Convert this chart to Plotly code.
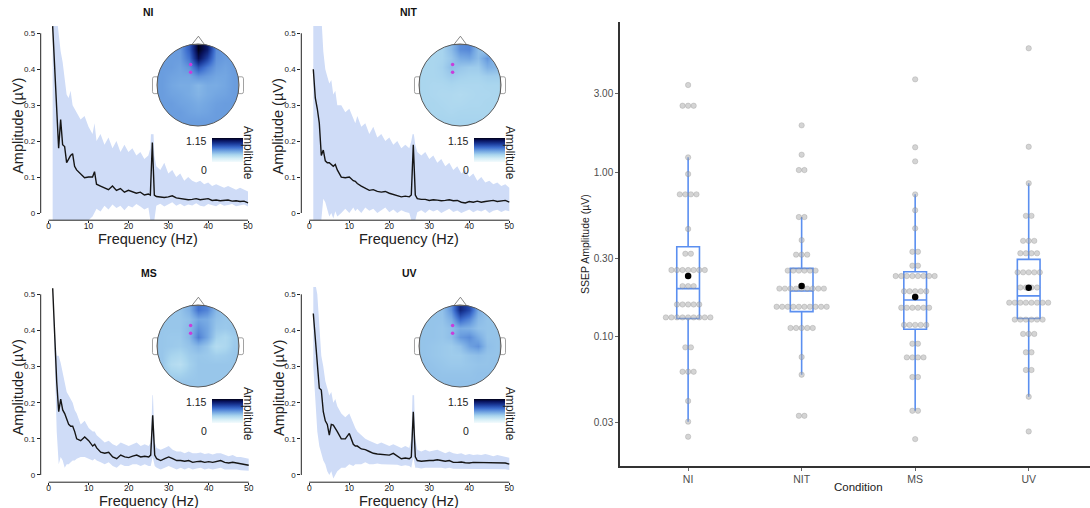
import numpy as np
import plotly.graph_objects as go

W, H = 1090, 508
FONT = "Liberation Sans, Arial, sans-serif"

CONDITIONS = ["NI", "NIT", "MS", "UV"]

# ---------------- spectra (frequency in Hz, amplitude in uV) ----------------
FREQ = [1, 1.5, 2, 2.5, 3, 3.5, 4, 4.5, 5, 5.5, 6, 6.5, 7,
        8, 9, 10, 11, 11.5,
        12, 13, 14, 15, 16, 17, 18, 19, 20, 21, 22, 23, 24, 25,
        25.5, 26, 26.5,
        27, 28, 29, 30, 31, 32, 33, 34, 35, 36, 37, 38, 39, 40, 41, 42, 43, 44, 45, 46, 47, 48, 49, 50]

NI_MEAN = [0.52, 0.40, 0.26, 0.18, 0.26, 0.19, 0.185, 0.14, 0.15, 0.16, 0.165, 0.13, 0.12,
           0.11, 0.098, 0.10, 0.10, 0.115,
           0.08, 0.075, 0.07, 0.065, 0.075, 0.063, 0.068, 0.058, 0.063, 0.06, 0.055, 0.058, 0.05, 0.053,
           0.05, 0.196, 0.05,
           0.046, 0.044, 0.043, 0.045, 0.048, 0.042, 0.04, 0.04, 0.037, 0.038, 0.04, 0.037, 0.038, 0.04,
           0.035, 0.036, 0.034, 0.035, 0.036, 0.033, 0.034, 0.032, 0.033, 0.028]
NI_HI = [0.55, 0.55, 0.55, 0.50, 0.45, 0.42, 0.38, 0.33, 0.32, 0.34, 0.30, 0.29, 0.28,
         0.26, 0.27, 0.24, 0.22, 0.25,
         0.20, 0.22, 0.19, 0.21, 0.18, 0.20, 0.17, 0.19, 0.17, 0.18, 0.16, 0.17, 0.15, 0.16,
         0.18, 0.31, 0.16,
         0.13, 0.12, 0.14, 0.11, 0.12, 0.10, 0.11, 0.09, 0.10, 0.09, 0.085, 0.09, 0.08, 0.085,
         0.075, 0.08, 0.075, 0.07, 0.075, 0.07, 0.065, 0.07, 0.065, 0.06]
NI_LO = [-0.02, -0.02, -0.02, -0.02, -0.02, -0.02, -0.02, -0.02, -0.02, -0.02, -0.02, -0.02, -0.02,
         -0.02, -0.02, -0.02, -0.01, 0.0,
         0.012, 0.004, 0.02, 0.01, 0.024, 0.014, 0.02, 0.008, 0.02, 0.015, 0.025, 0.018, 0.01, 0.015,
         -0.02, -0.02, -0.02,
         0.02, 0.026, 0.018, 0.025, 0.03, 0.02, 0.026, 0.019, 0.024, 0.021, 0.027, 0.02, 0.018, 0.025,
         0.021, 0.019, 0.026, 0.02, 0.022, 0.025, 0.019, 0.021, 0.024, 0.018]

NIT_MEAN = [0.40, 0.32, 0.29, 0.25, 0.16, 0.175, 0.145, 0.14, 0.14, 0.135, 0.13, 0.135, 0.12,
            0.10, 0.098, 0.10, 0.09, 0.088,
            0.082, 0.075, 0.068, 0.063, 0.065, 0.06, 0.058, 0.06, 0.055, 0.052, 0.05, 0.045, 0.047, 0.045,
            0.05, 0.19, 0.05,
            0.04, 0.038, 0.038, 0.035, 0.037, 0.036, 0.034, 0.035, 0.037, 0.034, 0.035, 0.03, 0.028, 0.032,
            0.03, 0.033, 0.03, 0.032, 0.033, 0.035, 0.032, 0.034, 0.035, 0.03]
NIT_HI = [0.55, 0.55, 0.55, 0.55, 0.55, 0.45, 0.40, 0.38, 0.36, 0.37, 0.33, 0.34, 0.30,
          0.30, 0.28, 0.29, 0.26, 0.25,
          0.27, 0.24, 0.25, 0.22, 0.24, 0.21, 0.22, 0.20, 0.21, 0.19, 0.20, 0.18, 0.19, 0.18,
          0.20, 0.23, 0.19,
          0.17, 0.16, 0.17, 0.15, 0.16, 0.14, 0.15, 0.13, 0.14, 0.12, 0.13, 0.11, 0.12, 0.10,
          0.11, 0.09, 0.10, 0.085, 0.09, 0.08, 0.085, 0.075, 0.08, 0.07]
NIT_LO = [-0.02, -0.02, -0.02, -0.02, -0.02, 0.04, 0.03, 0.01, -0.01, 0.0, -0.015, 0.005, -0.01,
          0.0, 0.012, 0.0, 0.015, 0.005,
          0.012, 0.0, 0.015, 0.006, 0.012, 0.0, 0.008, 0.015, 0.002, 0.01, 0.0, 0.008, 0.003, 0.0,
          -0.02, -0.02, -0.02,
          0.002, 0.008, 0.0, 0.01, 0.004, 0.009, 0.0, 0.006, 0.012, 0.003, 0.007, 0.0, 0.005, 0.01,
          0.002, 0.008, 0.004, 0.01, 0.0, 0.006, 0.009, 0.003, 0.008, 0.005]

MS_MEAN = [0.517, 0.38, 0.258, 0.175, 0.21, 0.18, 0.17, 0.155, 0.14, 0.135, 0.135, 0.12, 0.10,
           0.095, 0.105, 0.095, 0.08, 0.085,
           0.075, 0.063, 0.06, 0.063, 0.05, 0.045, 0.055, 0.05, 0.048, 0.052, 0.055, 0.05, 0.052, 0.05,
           0.055, 0.165, 0.055,
           0.045, 0.04, 0.045, 0.05, 0.045, 0.04, 0.04, 0.038, 0.04, 0.035, 0.037, 0.038, 0.035, 0.037,
           0.035, 0.038, 0.04, 0.035, 0.033, 0.035, 0.033, 0.03, 0.028, 0.027]
MS_HI = [0.517, 0.40, 0.33, 0.33, 0.31, 0.28, 0.25, 0.23, 0.22, 0.21, 0.20, 0.18, 0.17,
         0.14, 0.15, 0.13, 0.12, 0.12,
         0.11, 0.10, 0.09, 0.095, 0.085, 0.08, 0.09, 0.085, 0.08, 0.085, 0.09, 0.08, 0.085, 0.08,
         0.09, 0.24, 0.09,
         0.075, 0.07, 0.075, 0.08, 0.07, 0.065, 0.065, 0.06, 0.065, 0.06, 0.06, 0.062, 0.058, 0.06,
         0.057, 0.06, 0.06, 0.055, 0.052, 0.055, 0.05, 0.05, 0.048, 0.045]
MS_LO = [0.517, 0.30, 0.12, 0.03, 0.05, 0.04, 0.02, 0.03, 0.03, 0.035, 0.04, 0.04, 0.045,
         0.05, 0.05, 0.045, 0.04, 0.045,
         0.04, 0.035, 0.03, 0.035, 0.025, 0.02, 0.03, 0.025, 0.025, 0.03, 0.03, 0.025, 0.03, 0.025,
         0.025, 0.05, 0.025,
         0.02, 0.015, 0.02, 0.025, 0.02, 0.015, 0.02, 0.015, 0.02, 0.015, 0.018, 0.02, 0.015, 0.018,
         0.015, 0.018, 0.02, 0.015, 0.015, 0.017, 0.015, 0.013, 0.012, 0.012]

UV_MEAN = [0.447, 0.37, 0.30, 0.24, 0.235, 0.175, 0.15, 0.14, 0.11, 0.14, 0.138, 0.13, 0.12,
           0.10, 0.10, 0.115, 0.085, 0.08,
           0.08, 0.072, 0.07, 0.065, 0.06, 0.058, 0.057, 0.055, 0.055, 0.06, 0.052, 0.045, 0.047, 0.045,
           0.05, 0.175, 0.05,
           0.04, 0.038, 0.04, 0.04, 0.04, 0.042, 0.04, 0.038, 0.04, 0.035, 0.035, 0.036, 0.034, 0.033,
           0.035, 0.035, 0.033, 0.035, 0.034, 0.033, 0.035, 0.034, 0.033, 0.03]
UV_HI = [0.53, 0.53, 0.50, 0.40, 0.33, 0.30, 0.26, 0.24, 0.22, 0.23, 0.20, 0.21, 0.19,
         0.17, 0.16, 0.17, 0.14, 0.13,
         0.12, 0.11, 0.10, 0.095, 0.09, 0.085, 0.09, 0.085, 0.08, 0.085, 0.08, 0.075, 0.08, 0.075,
         0.10, 0.30, 0.10,
         0.07, 0.065, 0.07, 0.065, 0.068, 0.07, 0.065, 0.06, 0.065, 0.06, 0.058, 0.06, 0.055, 0.058,
         0.055, 0.057, 0.055, 0.058, 0.055, 0.052, 0.055, 0.052, 0.05, 0.048]
UV_LO = [0.30, 0.20, 0.12, 0.08, 0.06, 0.04, 0.03, 0.01, 0.0, 0.01, -0.01, 0.0, 0.01,
         0.02, 0.02, 0.03, 0.025, 0.03,
         0.03, 0.03, 0.035, 0.03, 0.03, 0.032, 0.03, 0.03, 0.028, 0.03, 0.028, 0.025, 0.027, 0.025,
         0.02, 0.05, 0.02,
         0.02, 0.018, 0.02, 0.02, 0.02, 0.022, 0.02, 0.018, 0.02, 0.017, 0.017, 0.018, 0.016, 0.016,
         0.017, 0.017, 0.016, 0.017, 0.016, 0.016, 0.017, 0.016, 0.016, 0.014]

SPECTRA = {
    "NI": (NI_MEAN, NI_LO, NI_HI),
    "NIT": (NIT_MEAN, NIT_LO, NIT_HI),
    "MS": (MS_MEAN, MS_LO, MS_HI),
    "UV": (UV_MEAN, UV_LO, UV_HI),
}
for k, v in SPECTRA.items():
    for arr in v:
        assert len(arr) == len(FREQ), (k, len(arr))

# ---------------- scalp topographies (amplitude, 9x9 grid, top row = front) ----------------
TOPO_NI = [
    [0.55, 0.55, 0.56, 0.75, 1.15, 1.00, 0.60, 0.55, 0.55],
    [0.55, 0.55, 0.55, 0.68, 1.05, 0.85, 0.58, 0.55, 0.55],
    [0.55, 0.55, 0.53, 0.58, 0.78, 0.65, 0.55, 0.53, 0.55],
    [0.55, 0.53, 0.52, 0.52, 0.58, 0.55, 0.52, 0.52, 0.55],
    [0.55, 0.52, 0.50, 0.50, 0.46, 0.50, 0.50, 0.52, 0.55],
    [0.55, 0.53, 0.52, 0.50, 0.47, 0.50, 0.52, 0.53, 0.55],
    [0.55, 0.55, 0.53, 0.52, 0.50, 0.52, 0.54, 0.55, 0.55],
    [0.55, 0.55, 0.55, 0.53, 0.52, 0.53, 0.55, 0.55, 0.55],
    [0.55, 0.55, 0.55, 0.55, 0.55, 0.55, 0.55, 0.55, 0.55],
]
TOPO_NIT = [
    [0.34, 0.34, 0.35, 0.44, 0.60, 0.62, 0.44, 0.37, 0.34],
    [0.34, 0.34, 0.35, 0.40, 0.50, 0.52, 0.44, 0.57, 0.44],
    [0.34, 0.34, 0.36, 0.43, 0.40, 0.38, 0.38, 0.48, 0.46],
    [0.34, 0.34, 0.35, 0.38, 0.36, 0.35, 0.35, 0.37, 0.37],
    [0.34, 0.33, 0.33, 0.34, 0.33, 0.33, 0.33, 0.34, 0.34],
    [0.34, 0.33, 0.32, 0.32, 0.31, 0.32, 0.33, 0.33, 0.34],
    [0.34, 0.34, 0.33, 0.32, 0.32, 0.33, 0.33, 0.34, 0.34],
    [0.35, 0.34, 0.34, 0.33, 0.34, 0.34, 0.34, 0.34, 0.35],
    [0.35, 0.35, 0.35, 0.35, 0.35, 0.35, 0.35, 0.35, 0.35],
]
TOPO_MS = [
    [0.40, 0.40, 0.41, 0.48, 0.68, 0.62, 0.45, 0.40, 0.40],
    [0.40, 0.40, 0.40, 0.43, 0.52, 0.50, 0.42, 0.40, 0.40],
    [0.40, 0.40, 0.40, 0.45, 0.58, 0.52, 0.40, 0.39, 0.40],
    [0.40, 0.39, 0.39, 0.45, 0.64, 0.52, 0.36, 0.33, 0.38],
    [0.40, 0.39, 0.38, 0.41, 0.46, 0.40, 0.30, 0.33, 0.39],
    [0.40, 0.35, 0.33, 0.38, 0.40, 0.39, 0.37, 0.38, 0.40],
    [0.40, 0.31, 0.28, 0.36, 0.40, 0.40, 0.40, 0.40, 0.40],
    [0.40, 0.36, 0.35, 0.38, 0.40, 0.40, 0.40, 0.40, 0.40],
    [0.40, 0.40, 0.40, 0.40, 0.40, 0.40, 0.40, 0.40, 0.40],
]
TOPO_UV = [
    [0.41, 0.41, 0.42, 0.58, 0.95, 0.82, 0.50, 0.41, 0.41],
    [0.41, 0.41, 0.41, 0.49, 0.72, 0.62, 0.45, 0.41, 0.41],
    [0.41, 0.41, 0.40, 0.43, 0.50, 0.48, 0.42, 0.41, 0.41],
    [0.41, 0.41, 0.40, 0.43, 0.56, 0.60, 0.50, 0.41, 0.41],
    [0.41, 0.40, 0.39, 0.38, 0.42, 0.53, 0.58, 0.43, 0.41],
    [0.41, 0.40, 0.39, 0.38, 0.38, 0.41, 0.43, 0.41, 0.41],
    [0.42, 0.41, 0.40, 0.39, 0.39, 0.40, 0.41, 0.41, 0.42],
    [0.42, 0.42, 0.41, 0.41, 0.41, 0.41, 0.42, 0.42, 0.42],
    [0.42, 0.42, 0.42, 0.42, 0.42, 0.42, 0.42, 0.42, 0.42],
]
TOPOS = {"NI": TOPO_NI, "NIT": TOPO_NIT, "MS": TOPO_MS, "UV": TOPO_UV}
TOPO_MIN, TOPO_MAX = 0, 1.15
ELECTRODE_X = [-0.18, -0.18]
ELECTRODE_Y = [0.50, 0.31]

# ---------------- SSEP amplitude dot/box plot ----------------
NI_DOT_VALS = [3.375, 2.527, 1.228, 0.972, 0.732, 0.451, 0.319, 0.254, 0.203, 0.157, 0.131, 0.0862, 0.0613, 0.0407, 0.0305, 0.0247]
NI_DOT_N = [1, 3, 1, 1, 4, 1, 2, 7, 3, 5, 9, 2, 3, 1, 1, 1]
NIT_DOT_VALS = [1.921, 1.274, 1.028, 0.533, 0.386, 0.315, 0.252, 0.196, 0.152, 0.113, 0.0753, 0.0588, 0.0331]
NIT_DOT_N = [1, 1, 2, 2, 1, 3, 6, 9, 10, 5, 1, 1, 2]
MS_DOT_VALS = [3.655, 1.413, 1.161, 0.732, 0.586, 0.455, 0.328, 0.270, 0.2336, 0.1887, 0.150, 0.118, 0.0907, 0.0749, 0.0569, 0.0355, 0.0239]
MS_DOT_N = [1, 1, 1, 1, 1, 1, 2, 2, 8, 5, 6, 5, 2, 4, 2, 2, 1]
UV_DOT_VALS = [5.64, 1.424, 0.855, 0.542, 0.382, 0.321, 0.246, 0.199, 0.161, 0.127, 0.104, 0.0804, 0.0628, 0.0432, 0.0266]
UV_DOT_N = [1, 1, 1, 2, 3, 4, 5, 4, 8, 6, 3, 2, 2, 1, 1]

BOX_Q1 = [0.129, 0.142, 0.111, 0.129]
BOX_MEDIAN = [0.196, 0.1895, 0.167, 0.177]
BOX_Q3 = [0.352, 0.260, 0.248, 0.295]
BOX_LOWER = [0.0305, 0.0588, 0.0355, 0.0432]
BOX_UPPER = [1.228, 0.533, 0.732, 0.855]
MEANS = [0.234, 0.203, 0.174, 0.198]

Y_TICKS = [0.03, 0.1, 0.3, 1, 3]
Y_TICK_TEXT = ["0.03", "0.10", "0.30", "1.00", "3.00"]

# ---------------- layout geometry (pixels) ----------------
SPEC_BOX = {  # x-left, x-right, y-top, y-bottom of each spectrum plotting region
    "NI": (40.7, 256.0, 26.1, 220.2),
    "NIT": (301.3, 517.3, 26.1, 220.2),
    "MS": (40.7, 256.7, 287.1, 482.2),
    "UV": (301.3, 517.3, 287.1, 482.2),
}
HEAD_C = {"NI": (198, 85), "NIT": (460, 85), "MS": (198, 346), "UV": (460, 346)}
HEAD_R = 41
BOX_DOM = (620, 1090, 22, 466)


def dx(a, b):
    return [a / W, b / W]


def dy(top, bot):
    return [1 - bot / H, 1 - top / H]


COLORSCALE = [[0.0, "#f4fbfd"], [0.15, "#d3edf6"], [0.3, "#a9d5ee"], [0.45, "#74a7e2"],
              [0.6, "#3f70cf"], [0.75, "#1c3d9e"], [0.9, "#08125c"], [1.0, "#000018"]]

fig = go.Figure()
layout = dict(
    width=W, height=H, margin=dict(l=0, r=0, t=0, b=0),
    paper_bgcolor="white", plot_bgcolor="white", showlegend=False,
    font=dict(family=FONT, color="#222"),
)
shapes = []
annotations = []

circle_path = ("M 1,0 C 1,0.5523 0.5523,1 0,1 C -0.5523,1 -1,0.5523 -1,0 "
               "C -1,-0.5523 -0.5523,-1 0,-1 C 0.5523,-1 1,-0.5523 1,0 Z")
mask_path = "M -1.08,-1.08 L 1.08,-1.08 L 1.08,1.08 L -1.08,1.08 Z " + circle_path

n_grid = 9
edges = np.linspace(-1, 1, n_grid + 1)
centers = (edges[:-1] + edges[1:]) / 2

for i, cond in enumerate(CONDITIONS):
    # spectrum axes
    sid = "" if i == 0 else str(i + 1)
    xa, ya = "x" + sid, "y" + sid
    mean, lo, hi = SPECTRA[cond]
    fig.add_trace(go.Scatter(x=FREQ, y=lo, mode="lines", line=dict(width=0, color="#cfdcf7"),
                             xaxis=xa, yaxis=ya, hoverinfo="skip"))
    fig.add_trace(go.Scatter(x=FREQ, y=hi, mode="lines", line=dict(width=0, color="#cfdcf7"),
                             fill="tonexty", fillcolor="#cfdcf7", xaxis=xa, yaxis=ya, hoverinfo="skip"))
    fig.add_trace(go.Scatter(x=FREQ, y=mean, mode="lines", line=dict(color="#151515", width=1.4),
                             xaxis=xa, yaxis=ya))
    x0p, x1p, y0p, y1p = SPEC_BOX[cond]
    layout["xaxis" + sid] = dict(
        domain=dx(x0p, x1p), range=[-2, 52], anchor=ya, tickvals=[0, 10, 20, 30, 40, 50],
        ticks="outside", ticklen=2, tickcolor="#222", tickfont=dict(size=8.5, color="#222"),
        ticklabelstandoff=-4,
        showgrid=False, zeroline=False, showline=False, fixedrange=True)
    layout["yaxis" + sid] = dict(
        domain=dy(y0p, y1p), range=[-0.02, 0.52], anchor=xa,
        tickvals=[0, 0.1, 0.2, 0.3, 0.4, 0.5], ticktext=["0", "0.1", "0.2", "0.3", "0.4", "0.5"],
        ticks="outside", ticklen=3, tickcolor="#222", tickfont=dict(size=8, color="#222"),
        showgrid=False, zeroline=False, showline=False, fixedrange=True)
    shapes.append(dict(type="line", xref=xa, yref=ya + " domain", x0=0, x1=50, y0=0, y1=0,
                       line=dict(color="#222", width=1)))
    shapes.append(dict(type="line", xref=xa + " domain", yref=ya, x0=0, x1=0, y0=0, y1=0.5,
                       line=dict(color="#222", width=1)))
    annotations.append(dict(text="<b>%s</b>" % cond, xref=xa + " domain", yref=ya + " domain",
                            x=0.5, y=1, yshift=13.8, yanchor="middle", showarrow=False,
                            font=dict(size=10.5, color="#111")))
    annotations.append(dict(text="Frequency (Hz)", xref=xa + " domain", yref=ya + " domain",
                            x=0.5, y=0, yshift=-19, yanchor="middle", showarrow=False,
                            font=dict(size=14.5, color="#222")))
    annotations.append(dict(text="Amplitude (µV)", xref=xa + " domain", yref=ya + " domain",
                            x=0, y=0.5, xshift=-23, yshift=-3, xanchor="center", yanchor="middle",
                            textangle=-90, showarrow=False, font=dict(size=14.5, color="#222")))

    # topography axes
    hid = str(i + 5)
    hx, hy = "x" + hid, "y" + hid
    cx, cy = HEAD_C[cond]
    r = HEAD_R
    layout["xaxis" + hid] = dict(domain=dx(cx - 1.2 * r, cx + 1.2 * r), range=[-1.2, 1.2],
                                 anchor=hy, visible=False, fixedrange=True)
    layout["yaxis" + hid] = dict(domain=dy(cy - 1.2 * r, cy + 1.2 * r), range=[-1.2, 1.2],
                                 anchor=hx, visible=False, fixedrange=True)
    z = np.array(TOPOS[cond])[::-1]
    fig.add_trace(go.Heatmap(
        z=z, x=centers, y=centers, zmin=TOPO_MIN, zmax=TOPO_MAX, colorscale=COLORSCALE,
        zsmooth="best", xaxis=hx, yaxis=hy, hoverinfo="skip", showscale=True,
        colorbar=dict(x=(cx + 14) / W, xanchor="left", y=1 - (cy + 53) / H, yanchor="top",
                      thickness=31, thicknessmode="pixels", len=24, lenmode="pixels",
                      xpad=0, ypad=0, outlinewidth=0, showticklabels=False, ticks="")))
    fig.add_trace(go.Scatter(x=ELECTRODE_X, y=ELECTRODE_Y, mode="markers",
                             marker=dict(color="#c93ddb", size=3.5), xaxis=hx, yaxis=hy,
                             hoverinfo="skip"))
    shapes.append(dict(type="path", path=mask_path, xref=hx, yref=hy, fillcolor="white",
                       fillrule="evenodd", line=dict(width=0), layer="above"))
    shapes.append(dict(type="path", path="M -0.15,0.985 L 0.01,1.19 L 0.16,0.985 Z", xref=hx, yref=hy,
                       fillcolor="white", line=dict(color="#6a6a6a", width=0.8), layer="above"))
    shapes.append(dict(type="path",
                       path="M -0.985,0.2 L -1.07,0.2 Q -1.11,0.2 -1.11,0.15 L -1.11,-0.16 "
                            "Q -1.11,-0.21 -1.07,-0.21 L -0.985,-0.21 Z",
                       xref=hx, yref=hy, fillcolor="white", line=dict(color="#8a8a8a", width=0.8),
                       layer="above"))
    shapes.append(dict(type="path",
                       path="M 0.985,0.2 L 1.07,0.2 Q 1.11,0.2 1.11,0.15 L 1.11,-0.16 "
                            "Q 1.11,-0.21 1.07,-0.21 L 0.985,-0.21 Z",
                       xref=hx, yref=hy, fillcolor="white", line=dict(color="#8a8a8a", width=0.8),
                       layer="above"))
    shapes.append(dict(type="circle", x0=-1, x1=1, y0=-1, y1=1, xref=hx, yref=hy,
                       line=dict(color="#5a5a5a", width=1), layer="above"))
    annotations.append(dict(text="1.15", xref="paper", yref="paper", x=(cx + 11) / W,
                            y=1 - (cy + 56) / H, xanchor="right", yanchor="middle",
                            showarrow=False, font=dict(size=10.5, color="#222")))
    annotations.append(dict(text="0", xref="paper", yref="paper", x=(cx + 11) / W,
                            y=1 - (cy + 85) / H, xanchor="right", yanchor="middle",
                            showarrow=False, font=dict(size=10.5, color="#222")))
    annotations.append(dict(text="Amplitude", xref="paper", yref="paper", x=(cx + 50) / W,
                            y=1 - (cy + 68) / H, xanchor="center", yanchor="middle", textangle=90,
                            showarrow=False, font=dict(size=12, color="#222")))

# ---------------- right panel ----------------
DOTS = [(NI_DOT_VALS, NI_DOT_N), (NIT_DOT_VALS, NIT_DOT_N), (MS_DOT_VALS, MS_DOT_N), (UV_DOT_VALS, UV_DOT_N)]
step = 0.049
dot_x, dot_y = [], []
for ci, (vals, counts) in enumerate(DOTS):
    for v, n in zip(vals, counts):
        for j in range(n):
            dot_x.append(ci + (j - (n - 1) / 2) * step)
            dot_y.append(v)

fig.add_trace(go.Scatter(x=dot_x, y=dot_y, mode="markers", xaxis="x9", yaxis="y9",
                         marker=dict(size=5.4, color="rgba(170,170,170,0.5)",
                                     line=dict(color="rgba(120,120,120,0.4)", width=0.6)),
                         hoverinfo="skip"))
fig.add_trace(go.Box(x=list(range(4)), q1=BOX_Q1, median=BOX_MEDIAN, q3=BOX_Q3,
                     lowerfence=BOX_LOWER, upperfence=BOX_UPPER, width=0.2, whiskerwidth=0,
                     line=dict(color="#5b8ff0", width=1.6), fillcolor="rgba(0,0,0,0)",
                     boxpoints=False, xaxis="x9", yaxis="y9", hoverinfo="skip"))
fig.add_trace(go.Scatter(x=list(range(4)), y=MEANS, mode="markers", xaxis="x9", yaxis="y9",
                         marker=dict(size=6.5, color="black"), hoverinfo="skip"))

bx0, bx1, by0, by1 = BOX_DOM
layout["xaxis9"] = dict(domain=dx(bx0, bx1), range=[-0.6, 3.54], anchor="y9",
                        tickvals=list(range(4)), ticktext=CONDITIONS,
                        showline=True, linecolor="#333", linewidth=1.5, ticks="outside",
                        ticklen=3, tickcolor="#666", tickfont=dict(size=10.5, color="#4d4d4d"),
                        showgrid=False, zeroline=False, fixedrange=True)
layout["yaxis9"] = dict(domain=dy(by0, by1), type="log", range=[-1.785, 0.911], anchor="x9",
                        tickvals=Y_TICKS, ticktext=Y_TICK_TEXT,
                        showline=True, linecolor="#333", linewidth=1.5, ticks="outside",
                        ticklen=3, tickcolor="#666", tickfont=dict(size=10, color="#4d4d4d"),
                        showgrid=False, zeroline=False, fixedrange=True)
annotations.append(dict(text="Condition", xref="paper", yref="paper", x=858 / W, y=1 - 487 / H,
                        xanchor="center", yanchor="middle", showarrow=False,
                        font=dict(size=11.5, color="#222")))
annotations.append(dict(text="SSEP Amplitude (µV)", xref="paper", yref="paper", x=585 / W,
                        y=1 - 244 / H, xanchor="center", yanchor="middle", textangle=-90,
                        showarrow=False, font=dict(size=10.5, color="#222")))

layout["shapes"] = shapes
layout["annotations"] = annotations
fig.update_layout(**layout)
fig.write_html("out.html")
